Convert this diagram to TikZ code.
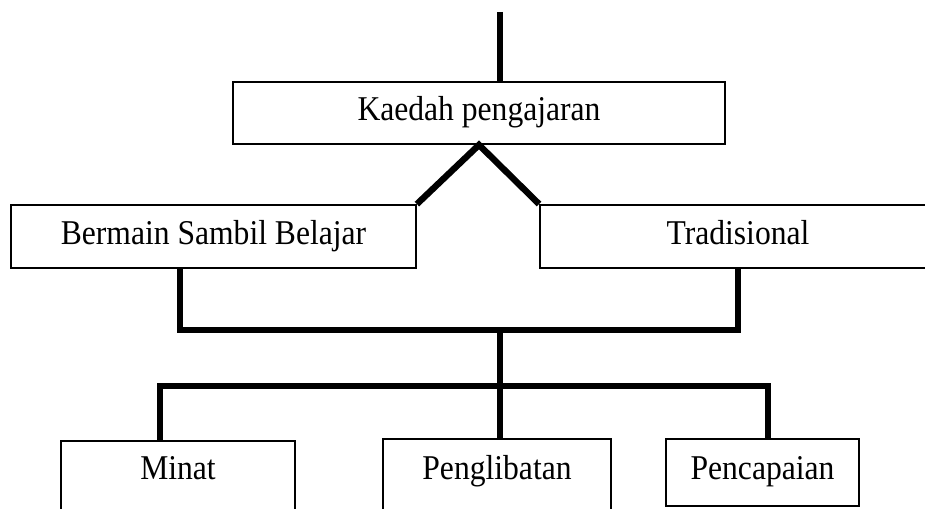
\documentclass[tikz,border=0pt]{standalone}
\usepackage{fontspec}
\usepackage{graphicx}
\setmainfont{Liberation Serif}
\usetikzlibrary{positioning, calc}
\newcommand{\tall}[1]{\scalebox{1}[1.1]{#1}}

\begin{document}
\begin{tikzpicture}[x=0.5pt, y=-0.5pt,
  font=\fontsize{15.8}{19}\selectfont,
  every node/.style={text height=12pt, text depth=4.5pt},
  box/.style={draw, line width=0.9pt, inner sep=0pt},
  link/.style={line width=3.2pt}]
  \clip (0,0) rectangle (925,508);
  \fill[white] (0,0) rectangle (925,508);

  % top level
  \node[box, minimum width=246pt, minimum height=31pt] (kaedah) at (479,113) {\tall{Kaedah pengajaran}};
  \coordinate (top) at (500,12);
  \draw[link] (top) -- (top |- kaedah.north);

  % two methods
  \node[box, minimum width=202.5pt, minimum height=31.5pt] (bermain) at (213.5,236.5) {\tall{Bermain Sambil Belajar}};
  \node[box, minimum width=198pt, minimum height=31.5pt] (tradisional) at (738,236.5) {\tall{Tradisional}};
  \draw[link] (bermain.north east) -- (kaedah.south) -- (tradisional.north west);

  % join of the two methods
  \coordinate (mid) at (500,330);
  \coordinate (hub) at (500,386);
  \draw[link] ($(bermain.south)+(-33.5,0)$) |- (mid) -| (tradisional.south);
  \draw[link] (mid) -- (hub);

  % outcomes
  \node[box, anchor=north, minimum width=117pt, minimum height=50pt] (minat) at (178,440) {};
  \node (minatText) at (178,471.5) {\tall{Minat}};
  \node[box, anchor=north, minimum width=114pt, minimum height=50pt] (penglibatan) at (497,438) {};
  \node (penglibatanText) at (497,471.5) {\tall{Penglibatan}};
  \node[box, anchor=north, minimum width=96.5pt, minimum height=33.5pt] (pencapaian) at (762.5,438) {\tall{Pencapaian}};
  \draw[link] ($(minat.north)+(-18,0)$) |- (hub) -| ($(pencapaian.north)+(5.5,0)$);
  \draw[link] (hub) -- (hub |- penglibatan.north);
\end{tikzpicture}
\end{document}
